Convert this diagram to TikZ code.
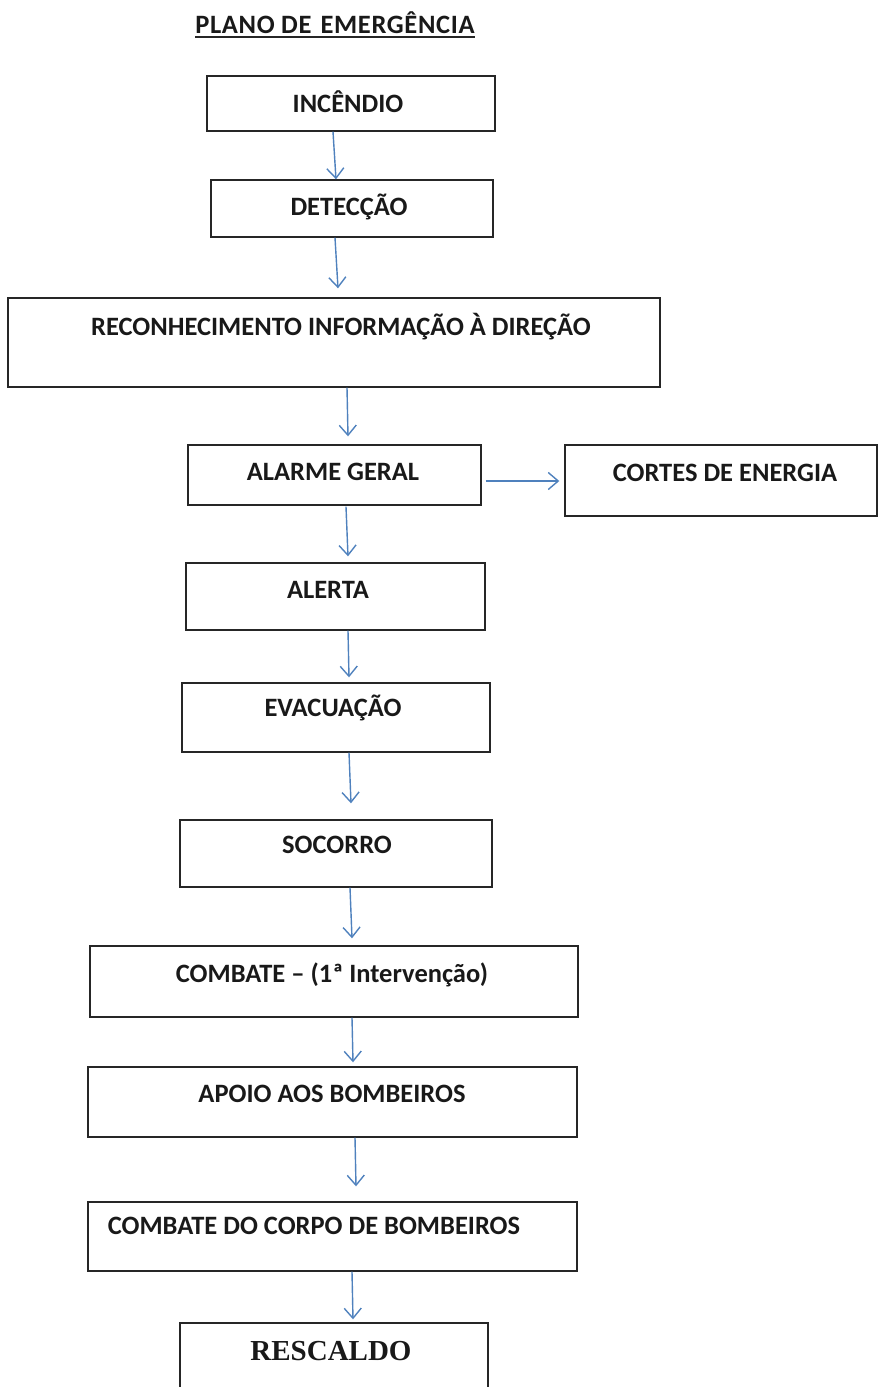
\documentclass[tikz,border=0pt]{standalone}
\usepackage{fontspec}
\setmainfont{Carlito}
\newfontfamily\timesf{Liberation Serif}
\usetikzlibrary{arrows.meta}
\definecolor{arrowblue}{RGB}{79,129,189}
\tikzset{
  box/.style={draw=black!85, line width=1.4pt, inner sep=0pt},
  lbl/.style={font=\bfseries\fontsize{26.5}{30}\selectfont, inner sep=0pt, anchor=base, text=black!90},
  conn/.style={draw=arrowblue, line width=1.4pt, -{Straight Barb[length=10pt,width=17pt]}},
}
\begin{document}
\begin{tikzpicture}[x=1pt,y=-1pt]
\useasboundingbox (0,0) rectangle (878,1387);
\clip (0,0) rectangle (878,1387);
% title
\node[lbl] (title) at (335,33) {\addfontfeatures{LetterSpace=2.5}PLANO\hspace{6.5pt}DE\hspace{9pt}EMERGÊNCIA};
\draw[line width=1.3pt, black!85] (title.base west) ++(0,4) coordinate (ul) -- (ul -| title.base east);
% boxes
\node[box, minimum width=288pt, minimum height=55pt] (inc) at (351,103.5) {};
\node[box, minimum width=282pt, minimum height=57pt] (det) at (352,208.5) {};
\node[box, minimum width=652pt, minimum height=89pt] (rec) at (334,342.5) {};
\node[box, minimum width=293pt, minimum height=60pt] (ala) at (334.5,475) {};
\node[box, minimum width=312pt, minimum height=71pt] (cor) at (721,480.5) {};
\node[box, minimum width=299pt, minimum height=67pt] (ale) at (335.5,596.5) {};
\node[box, minimum width=308pt, minimum height=69pt] (eva) at (336,717.5) {};
\node[box, minimum width=312pt, minimum height=67pt] (soc) at (336,853.5) {};
\node[box, minimum width=488pt, minimum height=71pt] (com) at (334,981.5) {};
\node[box, minimum width=489pt, minimum height=70pt] (apo) at (332.5,1102) {};
\node[box, minimum width=489pt, minimum height=69pt] (cbb) at (332.5,1236.5) {};
\node[box, minimum width=308pt, minimum height=77pt] (res) at (334,1361.5) {};
% labels
\node[lbl] (tinc) at (348,112) {INCÊNDIO};
\node[lbl] (tdet) at (349,215) {DETECÇÃO};
\node[lbl] (trec) at (341,335.5) {RECONHECIMENTO INFORMAÇÃO À DIREÇÃO};
\node[lbl] (tala) at (333,480.5) {ALARME GERAL};
\node[lbl] (tcor) at (725,481.5) {CORTES DE ENERGIA};
\node[lbl] (tale) at (328,598.5) {ALERTA};
\node[lbl] (teva) at (333,716.5) {EVACUAÇÃO};
\node[lbl] (tsoc) at (337,853.5) {SOCORRO};
\node[lbl] (tcom) at (332,982) {COMBATE – (1ª Intervenção)};
\node[lbl] (tapo) at (332,1102) {APOIO AOS BOMBEIROS};
\node[lbl] (tcbb) at (314,1234) {COMBATE DO CORPO DE BOMBEIROS};
\node[lbl, font=\timesf\bfseries\fontsize{29}{32}\selectfont] (tres) at (331,1360) {RESCALDO};
% connectors
\draw[conn] ([shift={(-18,0)}]inc.south) -- ([shift={(-16,0)}]det.north);
\draw[conn] ([shift={(-17,0)}]det.south) -- ([shift={(4,-9)}]rec.north);
\draw[conn] ([shift={(13,0)}]rec.south) -- ([shift={(13.5,-8)}]ala.north);
\draw[conn] ([shift={(4,6)}]ala.east) -- ([shift={(-5,0.5)}]cor.west);
\draw[conn] ([shift={(11.5,1)}]ala.south) -- ([shift={(12.5,-6)}]ale.north);
\draw[conn] ([shift={(12.5,0)}]ale.south) -- ([shift={(13,-5)}]eva.north);
\draw[conn] ([shift={(13,0)}]eva.south) -- ([shift={(15,-16)}]soc.north);
\draw[conn] ([shift={(14,0)}]soc.south) -- ([shift={(18,-7)}]com.north);
\draw[conn] ([shift={(18,0)}]com.south) -- ([shift={(20.5,-4)}]apo.north);
\draw[conn] ([shift={(22.5,0)}]apo.south) -- ([shift={(23.5,-15)}]cbb.north);
\draw[conn] ([shift={(19.5,0)}]cbb.south) -- ([shift={(19,-3)}]res.north);
\end{tikzpicture}
\end{document}
